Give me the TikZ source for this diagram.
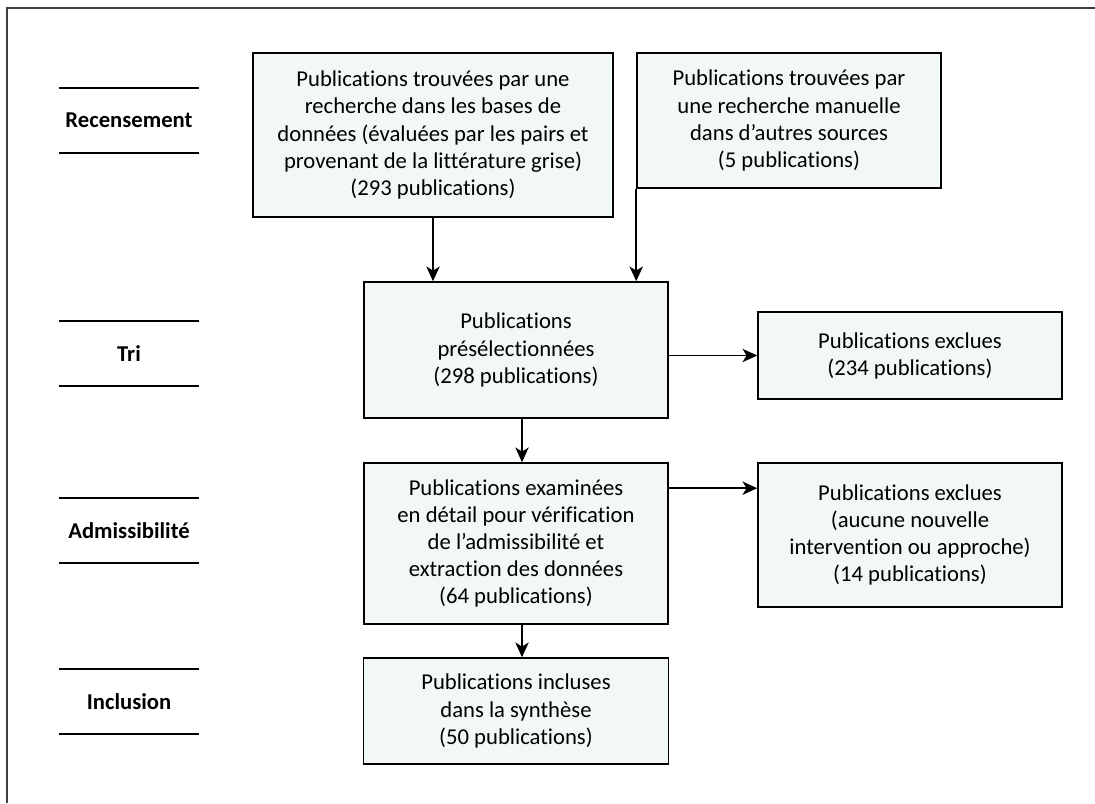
\documentclass[tikz,border=0pt]{standalone}
\usepackage{fontspec}
\setmainfont{Carlito}[RawFeature={-liga;-dlig;-clig}]
\usetikzlibrary{arrows.meta,calc}
\definecolor{boxfill}{HTML}{F2F8F7}
\tikzset{
  flowbox/.style={draw=black,line width=1.2pt,fill=boxfill,inner sep=0pt,align=center,
    font=\fontsize{17}{20.3}\selectfont,execute at begin node={\rule{0pt}{16.5pt}}},
  stagelabel/.style={inner sep=0pt,minimum width=105pt,minimum height=48.75pt,
    font=\fontsize{17}{20.3}\selectfont\bfseries},
  stageline/.style={line width=1.3pt},
  flowarrow/.style={line width=1.1pt,-{Stealth[length=11pt,width=10pt,inset=3pt]}},
  frameline/.style={line width=1.2pt,draw=black!75}
}
\begin{document}
\begin{tikzpicture}[x=0.75pt,y=-0.75pt]
\useasboundingbox (0,0) rectangle (1095,803);
\fill[white] (0,0) rectangle (1095,803);
\draw[frameline] (7,803) -- (7,8) -- (1095,8);

% stage labels
\node[stagelabel] (L1) at (129,120.5) {Recensement};
\node[stagelabel] (L2) at (129,353.5) {Tri};
\node[stagelabel] (L3) at (129,530.5) {Admissibilité};
\node[stagelabel] (L4) at (129,701.5) {Inclusion};
\foreach \n in {L1,L2,L3,L4}{
  \draw[stageline] (\n.north west) -- (\n.north east);
  \draw[stageline] (\n.south west) -- (\n.south east);
}

% boxes
\node[flowbox,minimum width=270pt,minimum height=123pt] (B1) at (433,135)
  {Publications trouvées par une\\recherche dans les bases de\\données (évaluées par les pairs et\\provenant de la littérature grise)\\(293 publications)};
\node[flowbox,minimum width=228pt,minimum height=101.25pt] (B2) at (789,120.5)
  {Publications trouvées par\\une recherche manuelle\\dans d’autres sources\\(5 publications)};
\node[flowbox,minimum width=228pt,minimum height=102pt] (B3) at (516,350)
  {Publications\\présélectionnées\\(298 publications)};
\node[flowbox,minimum width=228pt,minimum height=65.25pt] (B4) at (910,355.5)
  {Publications exclues\\(234 publications)};
\node[flowbox,minimum width=228pt,minimum height=120.75pt] (B5) at (516,543.5)
  {Publications examinées\\en détail pour vérification\\de l’admissibilité et\\extraction des données\\(64 publications)};
\node[flowbox,minimum width=228pt,minimum height=108pt] (B6) at (910,535)
  {Publications exclues\\(aucune nouvelle\\intervention ou approche)\\(14 publications)};
\node[flowbox,minimum width=228.75pt,minimum height=79.5pt] (B7) at (516,711)
  {Publications incluses\\dans la synthèse\\(50 publications)};

% connectors
\draw[flowarrow] (B1.south) -- (B1.south |- B3.north);
\draw[flowarrow] (B2.south west) -- (B2.south west |- B3.north);
\draw[flowarrow] (B3.east |- B4.west) -- (B4.west);
\coordinate (c35) at ($(B3.south)+(6,0)$);
\draw[flowarrow] (c35) -- (c35 |- B5.north);
\coordinate (c56) at ($(B5.north east)+(0,26)$);
\draw[flowarrow] (c56) -- (c56 -| B6.west);
\coordinate (c57) at ($(B5.south)+(6,0)$);
\draw[flowarrow] (c57) -- (c57 |- B7.north);
\end{tikzpicture}
\end{document}
